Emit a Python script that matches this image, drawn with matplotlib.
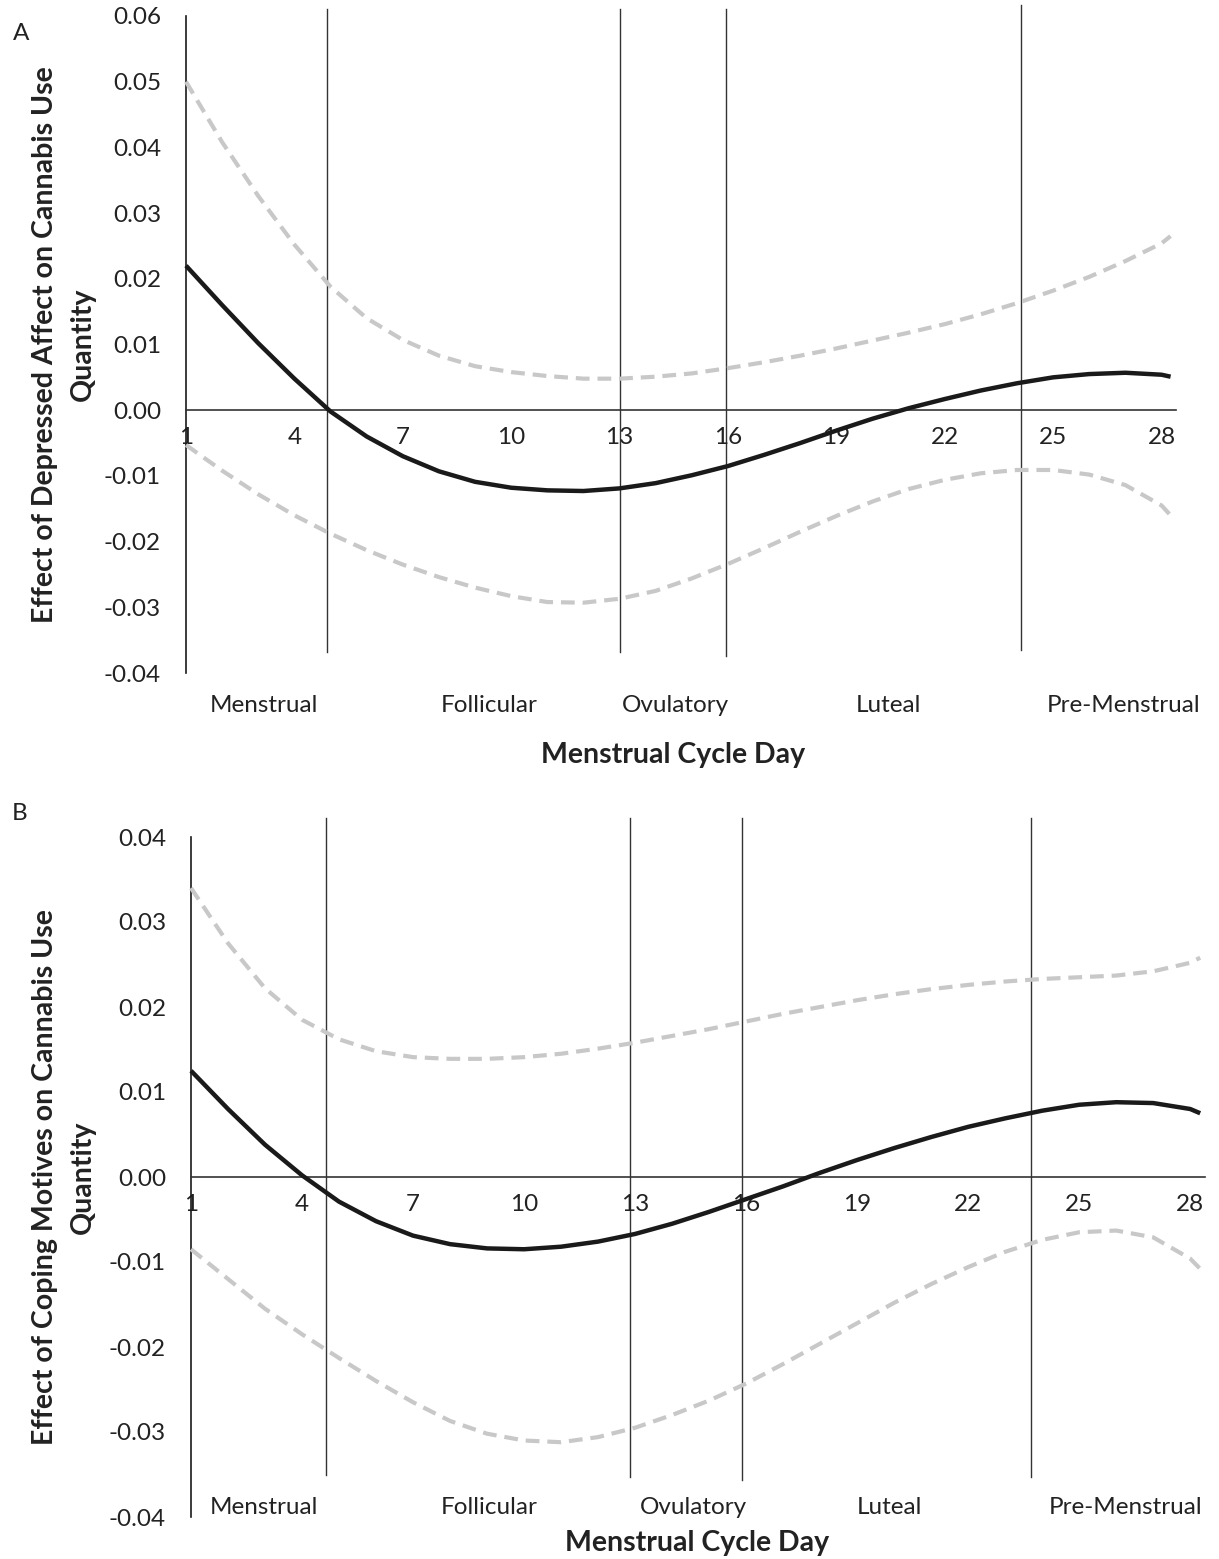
import numpy as np
import matplotlib.pyplot as plt
from matplotlib.transforms import blended_transform_factory

plt.rcParams['font.family'] = ['Lato', 'DejaVu Sans']

W, H = 1219, 1559

# ---- data ----
a_days = [1, 2, 3, 4, 5, 6, 7, 8, 9, 10, 11, 12, 13, 14, 15, 16, 17, 18, 19, 20,
          21, 22, 23, 24, 25, 26, 27, 28, 28.25]
a_est = [0.0220, 0.0160, 0.0102, 0.0048, -0.0002, -0.0040, -0.0070, -0.0093, -0.0109,
         -0.0118, -0.0122, -0.0123, -0.0119, -0.0111, -0.0099, -0.0085, -0.0068, -0.0050,
         -0.0031, -0.0013, 0.0003, 0.0017, 0.0030, 0.0041, 0.0050, 0.0055, 0.0057, 0.0054,
         0.0051]
a_upper = [0.0500, 0.0408, 0.0326, 0.0252, 0.0188, 0.0140, 0.0107, 0.0083, 0.0067, 0.0058,
           0.0052, 0.0048, 0.0048, 0.0051, 0.0056, 0.0064, 0.0073, 0.0083, 0.0094, 0.0106,
           0.0118, 0.0131, 0.0146, 0.0163, 0.0182, 0.0203, 0.0227, 0.0254, 0.0265]
a_lower = [-0.0053, -0.0092, -0.0128, -0.0160, -0.0188, -0.0213, -0.0235, -0.0254, -0.0270,
           -0.0283, -0.0292, -0.0293, -0.0287, -0.0275, -0.0256, -0.0234, -0.0210, -0.0185,
           -0.0161, -0.0139, -0.0120, -0.0106, -0.0096, -0.0091, -0.0091, -0.0098, -0.0114,
           -0.0145, -0.0160]

b_days = [1, 2, 3, 4, 5, 6, 7, 8, 9, 10, 11, 12, 13, 14, 15, 16, 17, 18, 19, 20,
          21, 22, 23, 24, 25, 26, 27, 28, 28.27]
b_est = [0.0125, 0.0080, 0.0038, 0.0002, -0.0029, -0.0052, -0.0069, -0.0079, -0.0084,
         -0.0085, -0.0082, -0.0076, -0.0067, -0.0055, -0.0041, -0.0026, -0.0011, 0.0005,
         0.0020, 0.0034, 0.0047, 0.0059, 0.0069, 0.0078, 0.0085, 0.0088, 0.0087, 0.0080,
         0.0075]
b_upper = [0.0340, 0.0275, 0.0222, 0.0185, 0.0162, 0.0148, 0.0141, 0.0139, 0.0139, 0.0141,
           0.0145, 0.0151, 0.0158, 0.0166, 0.0174, 0.0183, 0.0192, 0.0200, 0.0208, 0.0215,
           0.0221, 0.0226, 0.0230, 0.0233, 0.0235, 0.0237, 0.0242, 0.0252, 0.0258]
b_lower = [-0.0085, -0.0120, -0.0155, -0.0185, -0.0213, -0.0240, -0.0265, -0.0287, -0.0302,
           -0.0310, -0.0312, -0.0306, -0.0295, -0.0280, -0.0263, -0.0243, -0.0220, -0.0196,
           -0.0172, -0.0148, -0.0126, -0.0106, -0.0088, -0.0074, -0.0065, -0.0063, -0.0071,
           -0.0096, -0.0108]

tick_days = [1, 4, 7, 10, 13, 16, 19, 22, 25, 28]
phases = ["Menstrual", "Follicular", "Ovulatory", "Luteal", "Pre-Menstrual"]
a_phase_x = [3.16, 9.38, 14.55, 20.45, 26.95]
b_phase_x = [2.97, 9.05, 14.57, 19.86, 26.24]

# phase boundary lines: day, top value, bottom value
a_bounds = [4.9, 13.0, 15.95, 24.1]
a_bound_top = [0.0610, 0.0610, 0.0610, 0.0616]
a_bound_bot = [-0.0368, -0.0368, -0.0374, -0.0365]
b_bounds = [4.65, 12.86, 15.9, 23.7]
b_bound_top = [0.0422, 0.0422, 0.0422, 0.0422]
b_bound_bot = [-0.0350, -0.0353, -0.0356, -0.0353]

a_yticks = [-0.04, -0.03, -0.02, -0.01, 0.0, 0.01, 0.02, 0.03, 0.04, 0.05, 0.06]
b_yticks = [-0.04, -0.03, -0.02, -0.01, 0.0, 0.01, 0.02, 0.03, 0.04]

FS = 17.5
BFS = 20.5
GREY = "#c8c8c8"
INK = "#222222"


def px_axes(fig, left, top, right, bottom):
    return fig.add_axes([left / W, 1 - bottom / H, (right - left) / W, (bottom - top) / H])


def draw_panel(fig, ax, days, est, upper, lower, yticks, bounds, btop, bbot,
               phase_x, phase_ypx, xlabel_px, ylabel, letter_px, letter):
    ax.set_xlim(1, 28.4)
    ax.set_ylim(yticks[0], yticks[-1])

    for d, t, b in zip(bounds, btop, bbot):
        ax.plot([d, d], [b, t], color="#333333", lw=1.0, clip_on=False, zorder=1)

    for series in (upper, lower):
        ax.plot(days, series, color=GREY, lw=3.0, dashes=(3.3, 1.9), clip_on=False,
                dash_joinstyle="round", zorder=3)
    ax.plot(days, est, color="#1a1a1a", lw=3.2, clip_on=False, zorder=4,
            solid_joinstyle="round", solid_capstyle="butt")

    for s in ("top", "right"):
        ax.spines[s].set_visible(False)
    ax.spines["bottom"].set_position(("data", 0))
    ax.spines["bottom"].set_color("#333333")
    ax.spines["bottom"].set_linewidth(1.2)
    ax.spines["left"].set_color("#1a1a1a")
    ax.spines["left"].set_linewidth(1.2)

    ax.set_xticks(tick_days)
    ax.set_xticklabels([str(d) for d in tick_days])
    ax.set_yticks(yticks)
    ax.set_yticklabels([f"{v:.2f}" for v in yticks])
    ax.tick_params(axis="x", length=0, pad=12, labelsize=FS, colors=INK)
    ax.tick_params(axis="y", length=0, pad=18, labelsize=FS, colors=INK)

    tr = blended_transform_factory(ax.transData, fig.transFigure)
    for name, x in zip(phases, phase_x):
        ax.text(x, 1 - phase_ypx / H, name, transform=tr, ha="center", va="center",
                fontsize=FS, color=INK, clip_on=False)

    fig.text(xlabel_px[0] / W, 1 - xlabel_px[1] / H, "Menstrual Cycle Day",
             ha="center", va="center", fontsize=BFS, fontweight="bold", color=INK)

    pos = ax.get_position()
    yc = (pos.y0 + pos.y1) / 2
    fig.text(64 / W, yc, ylabel, rotation=90, ha="center", va="center",
             fontsize=BFS, fontweight="bold", color=INK, linespacing=1.6,
             multialignment="center")

    fig.text(letter_px[0] / W, 1 - letter_px[1] / H, letter, ha="center", va="center",
             fontsize=FS, color=INK)


fig = plt.figure(figsize=(W / 100, H / 100), dpi=100)

ax_a = px_axes(fig, 186, 16, 1176, 673)
draw_panel(fig, ax_a, a_days, a_est, a_upper, a_lower, a_yticks,
           a_bounds, a_bound_top, a_bound_bot, a_phase_x, 705, (673, 755),
           "Effect of Depressed Affect on Cannabis Use\nQuantity", (21, 34), "A")

ax_b = px_axes(fig, 191, 837, 1205, 1517)
draw_panel(fig, ax_b, b_days, b_est, b_upper, b_lower, b_yticks,
           b_bounds, b_bound_top, b_bound_bot, b_phase_x, 1507, (697, 1543),
           "Effect of Coping Motives on Cannabis Use\nQuantity", (20, 813), "B")

fig.savefig("out.png", dpi=100)
